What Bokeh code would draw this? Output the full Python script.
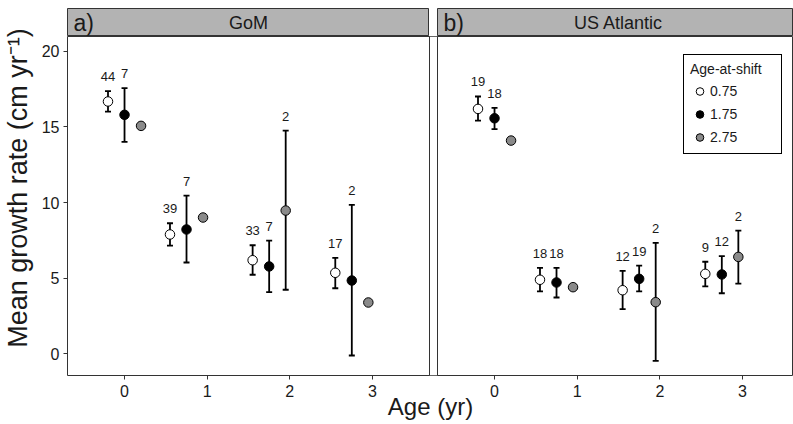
import math
from bokeh.plotting import figure
from bokeh.models import (Range1d, FixedTicker, CustomJSTickFormatter, ColumnDataSource,
                          Whisker, TeeHead, LabelSet, Label, Legend, LegendItem,
                          BoxAnnotation, Span)
from bokeh.layouts import row, column
from bokeh.embed import file_html
from bokeh.resources import INLINE
from bokeh.core.properties import value

FONT = "Liberation Sans"

# ---------------- data ----------------
x_ticks = [0, 1, 2, 3]
y_ticks = [0, 5, 10, 15, 20]
shift_labels = ["0.75", "1.75", "2.75"]

# dodged x positions (yr) for each age-at-shift group
x_white = [-0.2, 0.55, 1.55, 2.55]
x_black = [0.0, 0.75, 1.75, 2.75]
x_gray = [0.2, 0.95, 1.95, 2.95]

# GoM
gom_white_mean = [16.67, 7.89, 6.19, 5.36]
gom_white_lo = [16.00, 7.16, 5.23, 4.34]
gom_white_hi = [17.35, 8.63, 7.18, 6.35]
gom_white_n = [44, 39, 33, 17]

gom_black_mean = [15.79, 8.22, 5.78, 4.85]
gom_black_lo = [14.00, 6.04, 4.08, -0.10]
gom_black_hi = [17.55, 10.46, 7.49, 9.85]
gom_black_n = [7, 7, 7, 2]

gom_gray_mean = [15.06, 9.01, 9.47, 3.40]
gom_gray_lo = [None, None, 4.24, None]
gom_gray_hi = [None, None, 14.75, None]
gom_gray_n = [1, 1, 2, 1]

# US Atlantic
atl_white_mean = [16.18, 4.90, 4.21, 5.29]
atl_white_lo = [15.41, 4.13, 2.96, 4.46]
atl_white_hi = [17.00, 5.69, 5.49, 6.09]
atl_white_n = [19, 18, 12, 9]

atl_black_mean = [15.56, 4.72, 4.96, 5.25]
atl_black_lo = [14.84, 3.73, 4.13, 4.01]
atl_black_hi = [16.25, 5.69, 5.84, 6.46]
atl_black_n = [18, 18, 19, 12]

atl_gray_mean = [14.09, 4.41, 3.42, 6.41]
atl_gray_lo = [None, None, -0.45, 4.65]
atl_gray_hi = [None, None, 7.34, 8.15]
atl_gray_n = [1, 1, 2, 2]

# ---------------- layout constants ----------------
XL = (-0.69, 3.69)
YL = (-1.42, 20.96)
PANEL_L_W = 362
GAP = 8
PANEL_R_W = 356
FRAME_H = 339
STRIP_H = 28
TOP_B = 8
LEFT_B = 31
BOTTOM_B = 49
YT_W = 36
TOTAL_H = TOP_B + STRIP_H + FRAME_H + BOTTOM_B

u_per_px = (XL[1] - XL[0]) / PANEL_L_W
SHIFT = (PANEL_L_W + GAP) * u_per_px
X_END = XL[0] + (PANEL_L_W + GAP + PANEL_R_W) * u_per_px

BORDER = "#333333"
TXT = "#1a1a1a"
GRAY = "#8a8a8a"

p = figure(frame_width=PANEL_L_W + GAP + PANEL_R_W, frame_height=FRAME_H,
           x_range=Range1d(XL[0], X_END), y_range=Range1d(*YL),
           min_border_left=LEFT_B, min_border_right=0, min_border_top=0,
           min_border_bottom=BOTTOM_B,
           toolbar_location=None, output_backend="svg",
           outline_line_color=BORDER, outline_line_width=1)
p.extra_x_ranges = {"atl": Range1d(XL[0] - SHIFT, X_END - SHIFT)}
p.grid.visible = False

for ax in (p.xaxis[0], p.yaxis[0]):
    ax.major_tick_out = 4
    ax.major_tick_in = 0
    ax.minor_tick_out = 0
    ax.minor_tick_in = 0
    ax.axis_line_color = None
    ax.major_tick_line_color = BORDER
    ax.major_label_text_font = FONT
    ax.major_label_text_font_size = "16px"
    ax.major_label_text_color = TXT

p.xaxis.ticker = FixedTicker(ticks=x_ticks + [t + SHIFT for t in x_ticks])
p.xaxis.formatter = CustomJSTickFormatter(args=dict(shift=SHIFT, split=XL[1]),
    code="const v = tick > split ? tick - shift : tick; return Math.round(v).toString();")
p.xaxis.major_label_standoff = 5
p.xaxis.axis_label = "Age (yr)"
p.xaxis.axis_label_text_font = FONT
p.xaxis.axis_label_text_font_size = "24px"
p.xaxis.axis_label_text_font_style = "normal"
p.xaxis.axis_label_text_color = TXT
p.xaxis.axis_label_standoff = -7

p.yaxis.ticker = FixedTicker(ticks=y_ticks)
p.yaxis.major_label_standoff = 4

# gap between facets
p.add_layout(BoxAnnotation(left=XL[1], right=XL[0] + SHIFT, fill_color="white", fill_alpha=1,
                           line_color=None, level="overlay"))
p.add_layout(Span(location=XL[1], dimension="height", line_color=BORDER, line_width=1, level="overlay"))
p.add_layout(Span(location=XL[0], dimension="height", line_color=BORDER, line_width=1,
                  x_range_name="atl", level="overlay"))


def add_series(xs, mean, lo, hi, n, fill, rname):
    src = ColumnDataSource(dict(x=xs, y=mean))
    idx = [i for i in range(len(xs)) if lo[i] is not None]
    esrc = ColumnDataSource(dict(x=[xs[i] for i in idx], lower=[lo[i] for i in idx],
                                 upper=[hi[i] for i in idx], n=[str(n[i]) for i in idx]))
    w = Whisker(source=esrc, base="x", lower="lower", upper="upper", dimension="height",
                line_color="black", line_width=1.8, level="underlay", x_range_name=rname,
                upper_head=TeeHead(size=6, line_width=1.8, line_color="black"),
                lower_head=TeeHead(size=6, line_width=1.8, line_color="black"))
    p.add_layout(w)
    p.add_layout(LabelSet(source=esrc, x="x", y="upper", text="n", y_offset=14.5,
                          text_align="center", text_baseline="middle",
                          text_font=value(FONT), text_font_size="13px", text_color=TXT,
                          x_range_name=rname))
    return p.scatter("x", "y", source=src, size=9.5, fill_color=fill, line_color="black",
                     line_width=1, x_range_name=rname)


rw = add_series(x_white, gom_white_mean, gom_white_lo, gom_white_hi, gom_white_n, "white", "default")
rb = add_series(x_black, gom_black_mean, gom_black_lo, gom_black_hi, gom_black_n, "black", "default")
rg = add_series(x_gray, gom_gray_mean, gom_gray_lo, gom_gray_hi, gom_gray_n, GRAY, "default")
add_series(x_white, atl_white_mean, atl_white_lo, atl_white_hi, atl_white_n, "white", "atl")
add_series(x_black, atl_black_mean, atl_black_lo, atl_black_hi, atl_black_n, "black", "atl")
add_series(x_gray, atl_gray_mean, atl_gray_lo, atl_gray_hi, atl_gray_n, GRAY, "atl")

legend = Legend(items=[LegendItem(label=shift_labels[0], renderers=[rw]),
                       LegendItem(label=shift_labels[1], renderers=[rb]),
                       LegendItem(label=shift_labels[2], renderers=[rg])],
                location=(616, 221), title="Age-at-shift",
                title_text_font=FONT, title_text_font_size="14px", title_text_font_style="normal",
                title_text_color=TXT, title_standoff=4,
                label_text_font=FONT, label_text_font_size="14px", label_text_color=TXT,
                glyph_width=19, glyph_height=20, label_height=20, label_width=65,
                spacing=3, padding=6,
                margin=0, label_standoff=1, border_line_color="black", border_line_width=1.5,
                border_line_alpha=1.0,
                background_fill_color="white", background_fill_alpha=1)
p.add_layout(legend)


def strip(width, left_b, tag, name):
    s = figure(frame_width=width, frame_height=STRIP_H, min_border_left=left_b, min_border_right=0,
               min_border_top=TOP_B, min_border_bottom=0, x_range=Range1d(0, width),
               y_range=Range1d(0, STRIP_H), x_axis_type=None, y_axis_type=None,
               background_fill_color="#b3b3b3", outline_line_color=BORDER,
               toolbar_location=None, output_backend="svg")
    s.add_layout(Label(x=6, y=STRIP_H / 2, text=tag, text_font=FONT, text_font_size="23px",
                       text_align="left", text_baseline="middle", text_color=TXT))
    s.add_layout(Label(x=PANEL_L_W / 2, y=STRIP_H / 2, text=name, text_font=FONT,
                       text_font_size="18px", text_align="center", text_baseline="middle",
                       text_color=TXT))
    return s


sL = strip(PANEL_L_W, LEFT_B, "a)", "GoM")
sR = strip(PANEL_R_W, GAP, "b)", "US Atlantic")

yt = figure(width=YT_W, height=TOTAL_H, x_range=Range1d(0, YT_W), y_range=Range1d(0, TOTAL_H),
            x_axis_type=None, y_axis_type=None, outline_line_color=None, min_border=0,
            toolbar_location=None, output_backend="svg")
yt.add_layout(Label(x=17.5, y=TOTAL_H - 187.5, text="Mean growth rate (cm yr\u207b\u00b9)",
                    angle=math.pi / 2, text_align="center", text_baseline="middle",
                    text_font=FONT, text_font_size="27px", text_color=TXT))

layout = row(yt, column(row(sL, sR), p))
open("out.html", "w").write(file_html(layout, INLINE))
